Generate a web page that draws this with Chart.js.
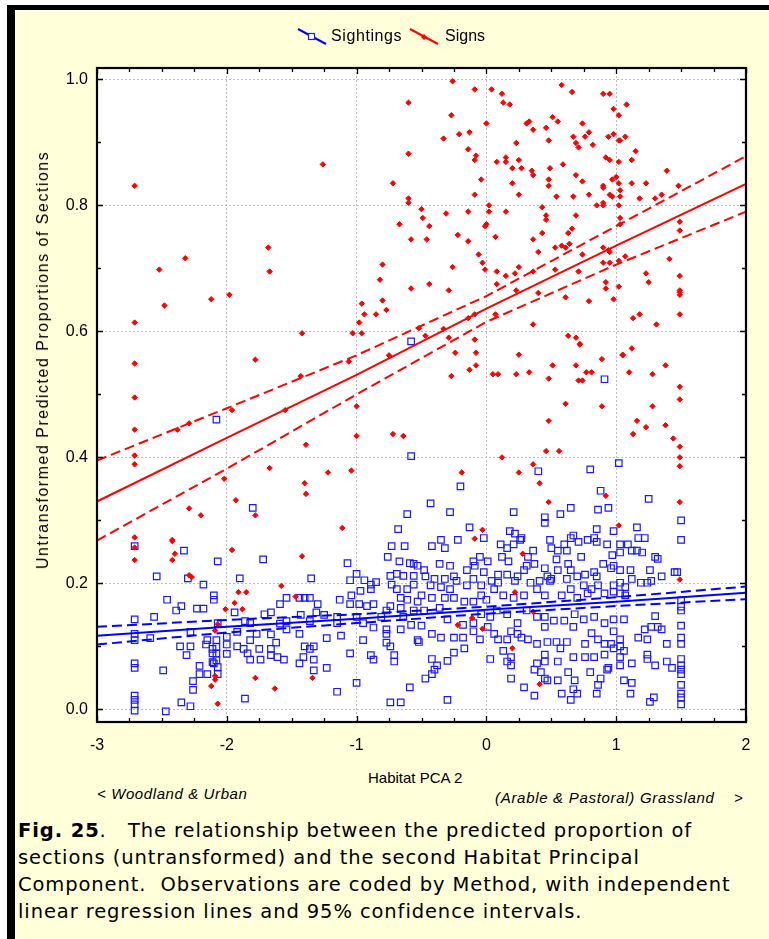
<!DOCTYPE html>
<html>
<head>
<meta charset="utf-8">
<script src="https://cdn.jsdelivr.net/npm/chart.js@4.4.1/dist/chart.umd.min.js"></script>
<style>
  html, body { margin: 0; padding: 0; background: #fff; }
  body { width: 769px; height: 939px; position: relative; overflow: hidden;
         font-family: "Liberation Sans", Arial, sans-serif; color: #000; }
  #sheet { position: absolute; left: 7px; top: 5px; right: 0; bottom: 0;
           background: #ffffd9; border-left: 8px solid #000; border-top: 5px solid #000; }
  #plot { position: absolute; left: 0; top: 0; }
  .txt { position: absolute; white-space: pre; line-height: 1; }
  .key { position: absolute; }
  #ytitle { position: absolute; left: 43px; top: 360px; font-size: 16px; letter-spacing: 1.5px;
            white-space: pre; transform: translate(-50%, -50%) rotate(-90deg); }
  #caption { position: absolute; left: 18px; top: 817px; font-family: "DejaVu Sans", sans-serif;
             font-size: 19.5px; letter-spacing: 0.9px; line-height: 27px; white-space: pre; }
</style>
</head>
<body>
<div id="sheet"></div>
<canvas id="plot" width="769" height="760"></canvas>

<svg class="key" style="left:297px;top:28px" width="30" height="17">
  <line x1="1" y1="1" x2="29" y2="16" stroke="#0000ff" stroke-width="2"/>
  <rect x="11.5" y="5.5" width="6" height="6" fill="#fff" stroke="#1a1aff" stroke-width="1.2"/>
</svg>
<div class="txt" style="left:331px;top:28px;font-size:16px;letter-spacing:0.6px">Sightings</div>
<svg class="key" style="left:409px;top:28px" width="30" height="17">
  <line x1="1" y1="1" x2="29" y2="16" stroke="#ff0000" stroke-width="2"/>
  <path d="M15 6 L18 9 L15 12 L12 9 Z" fill="#ff0000"/>
</svg>
<div class="txt" style="left:445px;top:28px;font-size:16px">Signs</div>

<div id="ytitle">Untransformed Predicted Proportions of Sections</div>
<div class="txt" style="left:368px;top:770px;font-size:15px">Habitat PCA 2</div>
<div class="txt" style="left:97px;top:786px;font-size:15px;font-style:italic;letter-spacing:0.6px">&lt; Woodland &amp; Urban</div>
<div class="txt" style="left:495px;top:790px;font-size:15px;font-style:italic;letter-spacing:0.7px">(Arable &amp; Pastoral) Grassland    &gt;</div>

<div id="caption"><b>Fig. 25</b>.   The relationship between the predicted proportion of
sections (untransformed) and the second Habitat Principal
Component.  Observations are coded by Method, with independent
linear regression lines and 95% confidence intervals.</div>

<script>
// Habitat PCA 2 score vs. untransformed predicted proportion of sections
const signs = [
  [-0.60,0.963],[-0.60,0.882],[-1.26,0.865],[-2.71,0.831],[-0.72,0.835],[-0.60,0.811],[-0.60,0.804],
  [-0.67,0.770],[-0.58,0.746],[-1.68,0.733],[-2.32,0.716],[-2.52,0.698],[-1.67,0.695],[-0.80,0.706],
  [-0.82,0.682],[-0.58,0.668],[-2.12,0.651],[-1.98,0.658],[-2.48,0.641],[-0.80,0.649],[-0.96,0.644],
  [-0.77,0.634],[-0.94,0.627],[-0.85,0.627],[-2.71,0.614],[-0.98,0.614],[-1.42,0.597],[-1.03,0.597],
  [-0.96,0.597],[-0.75,0.562],[-1.78,0.555],[-0.52,0.605],
  [-0.26,0.997],[-0.09,0.984],[0.04,0.984],[0.12,0.977],[0.13,0.963],[0.18,0.960],[0.58,0.991],
  [0.66,0.980],[0.90,0.977],[0.95,0.977],[0.98,0.953],[1.08,0.960],[1.02,0.943],[-0.27,0.943],
  [0.00,0.930],[0.31,0.930],[0.33,0.933],[0.36,0.920],[0.46,0.923],[0.51,0.940],[0.55,0.933],
  [0.74,0.930],[0.79,0.916],[0.76,0.909],[0.67,0.909],[0.69,0.899],[0.71,0.892],[0.82,0.896],
  [0.94,0.909],[0.98,0.913],[1.02,0.903],[1.03,0.903],[1.07,0.909],[-0.33,0.906],[-0.21,0.913],
  [-0.13,0.916],[-0.14,0.889],[-0.08,0.879],[-0.09,0.872],[0.23,0.899],[0.48,0.903],[1.15,0.886],
  [0.92,0.876],[0.95,0.872],[1.02,0.869],[1.12,0.872],[0.08,0.869],[0.15,0.876],[0.15,0.869],
  [0.25,0.872],[0.59,0.865],[0.20,0.859],[0.27,0.859],[0.35,0.855],[0.36,0.848],[0.49,0.859],
  [0.69,0.848],[-0.04,0.841],[0.20,0.835],[0.48,0.841],[0.48,0.831],[0.74,0.838],[0.97,0.841],
  [1.00,0.845],[0.90,0.831],[0.90,0.828],[1.02,0.835],[1.12,0.835],[1.23,0.835],[1.03,0.824],
  [1.39,0.855],[1.48,0.831],[-0.09,0.817],[0.25,0.817],[0.54,0.814],[0.67,0.814],[0.79,0.817],
  [0.95,0.817],[0.97,0.814],[1.03,0.814],[1.18,0.811],[1.30,0.811],[1.35,0.817],[0.02,0.800],
  [0.02,0.790],[0.15,0.790],[0.43,0.797],[0.85,0.800],[0.90,0.804],[0.90,0.800],[1.02,0.800],
  [-0.50,0.794],[-0.49,0.780],[-0.44,0.767],[-0.31,0.787],[-0.14,0.790],[0.46,0.784],[0.46,0.777],
  [0.69,0.784],[1.03,0.780],[1.03,0.770],[1.49,0.774],[1.49,0.760],[-0.46,0.746],[-0.22,0.753],
  [-0.14,0.743],[-0.01,0.767],[0.00,0.770],[0.07,0.750],[0.36,0.746],[0.43,0.756],[0.63,0.756],
  [0.66,0.763],[0.40,0.726],[0.53,0.733],[0.58,0.736],[0.61,0.733],[0.64,0.739],[0.74,0.722],
  [0.90,0.733],[0.94,0.729],[0.95,0.726],[0.90,0.709],[0.95,0.709],[1.02,0.712],[1.07,0.719],
  [1.41,0.715],[-0.06,0.722],[-0.03,0.709],[-0.01,0.698],[-0.26,0.702],[0.08,0.695],[0.15,0.688],
  [0.22,0.692],[0.25,0.702],[0.36,0.695],[0.53,0.698],[0.71,0.695],[1.23,0.692],[1.25,0.678],
  [1.49,0.688],[1.49,0.665],[1.49,0.662],[1.49,0.658],[-0.44,0.675],[-0.29,0.665],[0.08,0.675],
  [0.23,0.665],[0.40,0.661],[0.61,0.654],[0.79,0.648],[0.92,0.678],[0.92,0.668],[0.98,0.651],
  [1.02,0.671],[-0.14,0.621],[-0.09,0.627],[0.07,0.627],[0.36,0.611],[1.13,0.621],[1.18,0.627],
  [1.31,0.611],[1.49,0.627],[-0.33,0.604],[-0.29,0.590],[-0.09,0.587],[-0.47,0.593],[0.63,0.593],
  [0.69,0.590],[0.72,0.580],[1.12,0.573],[1.05,0.563],[-0.24,0.566],[-0.08,0.566],[0.25,0.563],
  [0.89,0.556],
  [-2.71,0.549],[-2.71,0.495],[-2.71,0.444],[-2.71,0.403],[-2.71,0.389],[-2.38,0.444],[-2.29,0.454],
  [-1.43,0.529],[-1.06,0.552],[-1.55,0.475],[-1.96,0.475],[-1.00,0.481],[-1.00,0.434],[-0.72,0.437],
  [-0.64,0.434],[-1.39,0.420],[-1.67,0.383],[-1.22,0.376],[-1.04,0.379],[-2.02,0.366],[-1.40,0.359],
  [-1.39,0.342],[-1.93,0.332],[-2.29,0.319],[-2.20,0.308],[-1.78,0.308],[-1.11,0.288],[-2.71,0.273],
  [-2.42,0.269],
  [0.72,0.579],[-0.08,0.546],[-0.13,0.539],[-0.27,0.529],[0.05,0.532],[0.09,0.532],[0.23,0.532],
  [0.33,0.535],[0.48,0.525],[0.51,0.546],[0.69,0.546],[0.71,0.522],[0.74,0.522],[0.77,0.535],
  [0.81,0.535],[1.05,0.562],[1.10,0.535],[1.28,0.532],[1.38,0.546],[1.49,0.512],[1.49,0.492],
  [0.89,0.481],[1.28,0.481],[0.61,0.485],[0.48,0.458],[1.16,0.458],[1.23,0.448],[1.38,0.451],
  [1.13,0.437],[1.44,0.430],[1.49,0.417],[1.49,0.400],[1.49,0.386],[0.46,0.410],[0.56,0.410],
  [0.12,0.400],[0.36,0.389],[0.25,0.376],[-0.19,0.376],[0.41,0.359],[0.92,0.339],[0.48,0.329],
  [1.49,0.329],[1.02,0.292],[-0.03,0.285],[-0.09,0.271],
  [-2.71,0.257],[-2.71,0.237],[-2.42,0.267],[-2.40,0.247],[-2.42,0.237],[-2.29,0.213],[-2.27,0.210],
  [-1.96,0.253],[-1.42,0.243],[-1.91,0.186],[-1.85,0.186],[-1.58,0.196],[-1.47,0.179],[-1.94,0.169],
  [-1.88,0.159],[-2.01,0.159],[-2.07,0.135],[-2.09,0.125],[-2.09,0.053],[-2.09,0.047],[-2.12,0.037],
  [-2.07,0.009],[-1.78,0.050],[-1.63,0.033],[-1.34,0.050],
  [0.28,0.247],[0.22,0.186],[1.49,0.206],[0.36,0.155],[-0.11,0.145],[-0.22,0.134],[-0.03,0.128],
  [0.20,0.097],[0.41,0.040]
];

const sightings = [
  [-2.08,0.460],[-0.58,0.584],[-0.58,0.402],[-1.80,0.320],[-0.61,0.310],[-0.68,0.286],
  [0.91,0.524],[1.02,0.391],[0.80,0.381],[0.40,0.378],[-0.20,0.354],[0.88,0.347],[-0.43,0.327],
  [-0.28,0.313],[0.21,0.313],[0.45,0.305],[0.45,0.296],[0.57,0.310],[0.65,0.320],[0.86,0.317],
  [0.94,0.320],[1.25,0.334],[1.50,0.300],[-0.13,0.289],[0.18,0.283],[0.22,0.279],[0.85,0.286],
  [0.98,0.283],[1.16,0.289],
  [-2.71,0.259],[-2.33,0.252],[-2.07,0.235],[-1.72,0.238],[-2.54,0.211],[-2.30,0.208],[-1.90,0.208],
  [-1.35,0.208],[-2.18,0.198],[-2.46,0.174],[-2.35,0.164],[-2.39,0.157],[-2.23,0.160],[-2.18,0.160],
  [-2.10,0.181],[-2.10,0.174],[-1.94,0.154],[-2.56,0.147],[-2.71,0.143],[-2.71,0.120],[-2.71,0.110],
  [-2.59,0.113],[-2.28,0.123],[-2.36,0.100],[-2.28,0.100],[-2.31,0.086],[-2.15,0.110],[-2.16,0.103],
  [-2.11,0.096],[-2.11,0.089],[-2.08,0.110],[-2.08,0.099],[-2.08,0.089],[-2.08,0.078],[-2.10,0.073],
  [-2.07,0.067],[-2.07,0.056],[-2.11,0.075],[-2.00,0.115],[-2.00,0.103],[-2.00,0.088],[-2.07,0.137],
  [-1.92,0.123],[-1.92,0.100],[-1.87,0.096],[-1.82,0.110],[-1.82,0.079],[-1.84,0.089],[-1.77,0.120],
  [-1.75,0.096],[-1.74,0.079],[-1.66,0.119],[-1.66,0.096],[-1.66,0.086],[-1.62,0.106],[-1.61,0.083],
  [-1.56,0.079],[-1.86,0.140],[-1.82,0.137],[-1.71,0.151],[-1.66,0.154],[-1.59,0.167],[-1.54,0.177],
  [-1.44,0.177],[-1.40,0.177],[-1.36,0.177],[-1.30,0.167],[-1.43,0.150],[-1.31,0.154],[-1.25,0.150],
  [-1.59,0.136],[-1.54,0.140],[-1.54,0.127],[-1.44,0.120],[-1.23,0.113],[-1.40,0.100],[-1.33,0.100],
  [-1.36,0.096],[-1.41,0.083],[-1.44,0.073],[-1.33,0.079],[-1.33,0.062],[-1.23,0.066],[-1.36,0.140],
  [-1.15,0.147],[-1.15,0.137],[-1.12,0.117],[-1.05,0.089],[-1.13,0.174],[-1.05,0.205],[-1.07,0.232],
  [-1.00,0.215],[-1.04,0.181],[-1.05,0.167],[-0.98,0.167],[-0.97,0.188],[-0.94,0.205],[-0.89,0.198],
  [-0.85,0.202],[-0.89,0.191],[-0.92,0.164],[-0.87,0.167],[-1.00,0.147],[-0.95,0.137],[-0.87,0.130],
  [-0.95,0.110],[-0.89,0.086],[-0.87,0.079],[-1.00,0.042],[-1.15,0.028],[-1.86,0.017],[-2.28,0.005],
  [-2.35,0.011],[-2.47,-0.003],[-2.26,0.031],[-2.26,0.045],[-2.21,0.056],[-2.21,0.069],[-2.15,0.056],
  [-2.49,0.062],[-2.71,0.073],[-2.71,0.066],[-2.71,0.022],[-2.71,0.015],[-2.71,0.008],[-2.71,-0.002],
  [-0.76,0.242],[-0.73,0.259],[-0.63,0.259],[-0.67,0.235],[-0.59,0.232],[-0.74,0.212],[-0.69,0.215],
  [-0.64,0.212],[-0.56,0.212],[-0.73,0.198],[-0.69,0.191],[-0.61,0.191],[-0.56,0.198],[-0.66,0.177],
  [-0.61,0.174],[-0.53,0.171],[-0.74,0.164],[-0.66,0.161],[-0.56,0.157],[-0.77,0.157],[-0.81,0.147],
  [-0.64,0.147],[-0.58,0.134],[-0.66,0.127],[-0.77,0.127],[-0.77,0.120],[-0.77,0.106],[-0.74,0.100],
  [-0.53,0.110],[-0.71,0.086],[-0.71,0.076],[-0.59,0.035],[-0.74,0.011],[-0.66,0.011],
  [-0.56,0.231],[-0.53,0.228],[-0.52,0.107],
  [1.50,0.269],[1.22,0.272],[1.17,0.272],[-0.02,0.272],[-0.35,0.269],[-0.22,0.269],[0.26,0.269],
  [0.27,0.272],[0.49,0.269],[0.65,0.272],[0.67,0.276],[0.71,0.266],[0.78,0.269],[0.83,0.272],
  [0.85,0.266],[0.11,0.262],[0.16,0.256],[0.21,0.262],[0.36,0.252],[0.50,0.256],[0.55,0.252],
  [0.60,0.262],[0.62,0.252],[0.93,0.262],[1.03,0.262],[1.09,0.262],[1.03,0.249],[0.97,0.245],
  [1.12,0.252],[1.16,0.252],[1.20,0.249],[1.30,0.242],[1.32,0.239],[-0.42,0.259],[-0.32,0.256],
  [-0.48,0.221],[-0.36,0.231],[-0.28,0.228],[-0.15,0.221],[-0.10,0.235],[-0.05,0.242],[-0.09,0.228],
  [0.01,0.235],[0.12,0.242],[0.17,0.235],[0.32,0.242],[0.37,0.231],[0.31,0.228],[0.45,0.224],
  [0.54,0.238],[0.63,0.231],[0.65,0.221],[0.73,0.242],[0.90,0.231],[0.96,0.224],[0.98,0.228],
  [1.03,0.221],[1.11,0.221],[1.26,0.221],[1.45,0.218],[1.47,0.218],
  [-0.47,0.211],[-0.40,0.207],[-0.32,0.207],[-0.25,0.211],[-0.10,0.207],[-0.02,0.218],[0.09,0.214],
  [0.16,0.214],[0.24,0.211],[0.29,0.221],[0.47,0.211],[0.50,0.207],[0.55,0.221],[0.70,0.211],
  [0.76,0.214],[0.83,0.218],[0.85,0.211],[1.12,0.207],[1.19,0.201],[1.24,0.201],[1.27,0.204],
  [1.35,0.211],
  [-0.43,0.197],[-0.35,0.194],[-0.23,0.204],[-0.28,0.191],[-0.15,0.197],[-0.04,0.197],[0.04,0.204],
  [0.09,0.201],[0.22,0.204],[0.34,0.201],[0.41,0.204],[0.49,0.204],[0.62,0.207],[0.75,0.197],
  [0.86,0.197],[0.98,0.197],[1.03,0.201],[1.07,0.194],
  [-0.50,0.181],[-0.42,0.177],[-0.32,0.177],[-0.25,0.177],[-0.17,0.171],[-0.10,0.171],[-0.04,0.181],
  [0.00,0.174],[0.06,0.191],[0.13,0.181],[0.21,0.177],[0.29,0.181],[0.39,0.191],[0.45,0.181],
  [0.58,0.181],[0.65,0.191],[0.70,0.177],[0.78,0.184],[0.81,0.191],[0.91,0.184],[0.98,0.187],
  [1.03,0.184],[1.07,0.181],
  [-0.48,0.157],[-0.36,0.161],[-0.30,0.143],[-0.18,0.134],[-0.10,0.137],[-0.04,0.151],[0.03,0.147],
  [0.08,0.157],[0.16,0.151],[0.24,0.137],[0.31,0.157],[0.39,0.147],[0.45,0.147],[0.52,0.141],
  [0.60,0.141],[0.68,0.151],[0.75,0.143],[0.83,0.147],[0.91,0.137],[0.98,0.143],[1.06,0.143],
  [-0.50,0.133],[-0.42,0.120],[-0.35,0.114],[-0.25,0.114],[-0.18,0.114],[-0.10,0.124],[-0.05,0.111],
  [0.01,0.131],[0.06,0.120],[0.09,0.111],[0.16,0.111],[0.19,0.124],[0.24,0.120],[0.27,0.114],
  [0.32,0.111],[0.39,0.104],[0.45,0.131],[0.47,0.107],[0.54,0.107],[0.57,0.097],[0.62,0.107],
  [0.67,0.131],[0.76,0.104],[0.81,0.121],[0.86,0.111],[0.91,0.104],[0.96,0.104],[0.98,0.124],
  [1.03,0.111],[1.03,0.100],[1.17,0.114],[1.24,0.111],[1.27,0.131],[1.32,0.131],[1.35,0.127],
  [1.30,0.148],[1.39,0.104],[1.22,0.127],
  [-0.25,0.090],[-0.17,0.097],[0.03,0.080],[0.13,0.093],[0.19,0.083],[0.16,0.076],[0.19,0.070],
  [-0.30,0.077],[-0.42,0.080],[-0.38,0.070],[-0.40,0.063],[-0.42,0.056],[-0.47,0.049],[-0.30,0.015],
  [0.19,0.049],[0.29,0.035],[0.37,0.063],[0.39,0.073],[0.42,0.059],[0.45,0.087],[0.45,0.076],
  [0.45,0.049],[0.47,0.046],[0.55,0.076],[0.55,0.046],[0.63,0.059],[0.67,0.083],[0.68,0.046],
  [0.67,0.032],[0.70,0.025],[0.65,0.015],[0.58,0.025],[0.37,0.022],[0.76,0.083],[0.80,0.059],
  [0.83,0.083],[0.88,0.049],[0.86,0.039],[0.85,0.025],[0.93,0.063],[0.94,0.066],[0.91,0.087],
  [0.98,0.097],[1.03,0.083],[1.06,0.093],[1.03,0.070],[1.12,0.073],[1.06,0.046],[1.12,0.042],
  [1.11,0.025],[1.24,0.087],[1.24,0.080],[1.30,0.070],[1.39,0.076],[1.43,0.066],[1.26,0.012],
  [1.29,0.019],
  [1.50,0.173],[1.50,0.163],[1.50,0.157],[1.50,0.133],[1.50,0.114],[1.50,0.104],[1.50,0.080],
  [1.50,0.070],[1.50,0.063],[1.50,0.056],[1.50,0.039],[1.50,0.025],[1.50,0.019],[1.50,0.008]
];

// regression lines with 95% confidence bands
const lineX = [-3, -2, -1, 0, 1, 2];
const signsFit   = [0.330, 0.431, 0.531, 0.636, 0.736, 0.834];
const signsUpper = [0.395, 0.478, 0.562, 0.656, 0.767, 0.878];
const signsLower = [0.268, 0.382, 0.500, 0.615, 0.706, 0.790];
const sightingsFit   = [0.117, 0.131, 0.144, 0.158, 0.171, 0.185];
const sightingsUpper = [0.131, 0.142, 0.151, 0.163, 0.178, 0.195];
const sightingsLower = [0.103, 0.122, 0.137, 0.152, 0.164, 0.175];

const yTicks = [0, 0.2, 0.4, 0.6, 0.8, 1.0];

const BLUE = '#0000ff';
const RED = '#ff0000';
const FONT = '"Liberation Sans", Arial, sans-serif';

function asPoints(pairs) {
  return pairs.map(p => ({x: p[0], y: p[1]}));
}

function lineSet(values, color, dashed, order) {
  return {
    type: 'line',
    data: lineX.map((x, i) => ({x, y: values[i]})),
    borderColor: color,
    borderWidth: 2,
    borderDash: dashed ? [10, 5] : [],
    pointRadius: 0,
    fill: false,
    tension: 0,
    order
  };
}

// white plot area, then frame and inward ticks on all four sides
const framePlugin = {
  id: 'frame',
  beforeDraw(chart) {
    const {ctx, chartArea: a} = chart;
    ctx.save();
    ctx.fillStyle = '#fff';
    ctx.fillRect(a.left, a.top, a.right - a.left, a.bottom - a.top);
    ctx.restore();
  },
  afterDraw(chart) {
    const {ctx, chartArea: a, scales} = chart;
    ctx.save();
    ctx.strokeStyle = '#000';
    ctx.lineWidth = 1.3;
    ctx.beginPath();
    for (let v = -3; v <= 2.0001; v += 0.25) {
      const px = Math.round(scales.x.getPixelForValue(v)) + 0.5;
      const len = Math.abs(v - Math.round(v)) < 1e-6 ? 6 : 4;
      ctx.moveTo(px, a.bottom); ctx.lineTo(px, a.bottom - len);
      ctx.moveTo(px, a.top); ctx.lineTo(px, a.top + len);
    }
    for (let i = 0; i <= 10; i++) {
      const py = Math.round(scales.y.getPixelForValue(i / 10)) + 0.5;
      const len = i % 2 === 0 ? 6 : 4;
      ctx.moveTo(a.left, py); ctx.lineTo(a.left + len, py);
      ctx.moveTo(a.right, py); ctx.lineTo(a.right - len, py);
    }
    ctx.stroke();
    ctx.lineWidth = 2.2;
    ctx.strokeRect(a.left, a.top, a.right - a.left, a.bottom - a.top);
    ctx.restore();
  }
};

new Chart(document.getElementById('plot'), {
  type: 'scatter',
  data: {
    datasets: [
      lineSet(signsFit, RED, false, 0),
      lineSet(signsUpper, RED, true, 0),
      lineSet(signsLower, RED, true, 0),
      lineSet(sightingsFit, BLUE, false, 1),
      lineSet(sightingsUpper, BLUE, true, 1),
      lineSet(sightingsLower, BLUE, true, 1),
      {
        label: 'Signs',
        data: asPoints(signs),
        pointStyle: 'rectRot',
        radius: 2.7,
        backgroundColor: RED,
        borderColor: RED,
        borderWidth: 1,
        order: 2
      },
      {
        label: 'Sightings',
        data: asPoints(sightings),
        pointStyle: 'rect',
        radius: 4.6,
        backgroundColor: 'rgba(0,0,0,0)',
        borderColor: '#1a1aff',
        borderWidth: 1.2,
        order: 3
      }
    ]
  },
  options: {
    responsive: false,
    animation: false,
    events: [],
    layout: { padding: { top: 68, right: 23, left: 0, bottom: 0 } },
    plugins: { legend: { display: false }, tooltip: { enabled: false } },
    scales: {
      x: {
        type: 'linear',
        min: -3,
        max: 2,
        afterFit(scale) { scale.height = 38; },
        ticks: {
          stepSize: 1,
          color: '#000',
          padding: 14,
          font: { family: FONT, size: 16 },
          callback: v => String(v)
        },
        grid: { color: '#bdbdbd', lineWidth: 1, drawTicks: false },
        border: { display: false, dash: [2, 2] }
      },
      y: {
        min: -0.02,
        max: 1.018,
        afterFit(scale) { scale.width = 97; },
        afterBuildTicks(scale) { scale.ticks = yTicks.map(v => ({value: v})); },
        ticks: {
          color: '#000',
          padding: 9,
          font: { family: FONT, size: 16 },
          callback: v => v.toFixed(1)
        },
        grid: { color: '#bdbdbd', lineWidth: 1, drawTicks: false },
        border: { display: false, dash: [2, 2] }
      }
    }
  },
  plugins: [framePlugin]
});
</script>
</body>
</html>
